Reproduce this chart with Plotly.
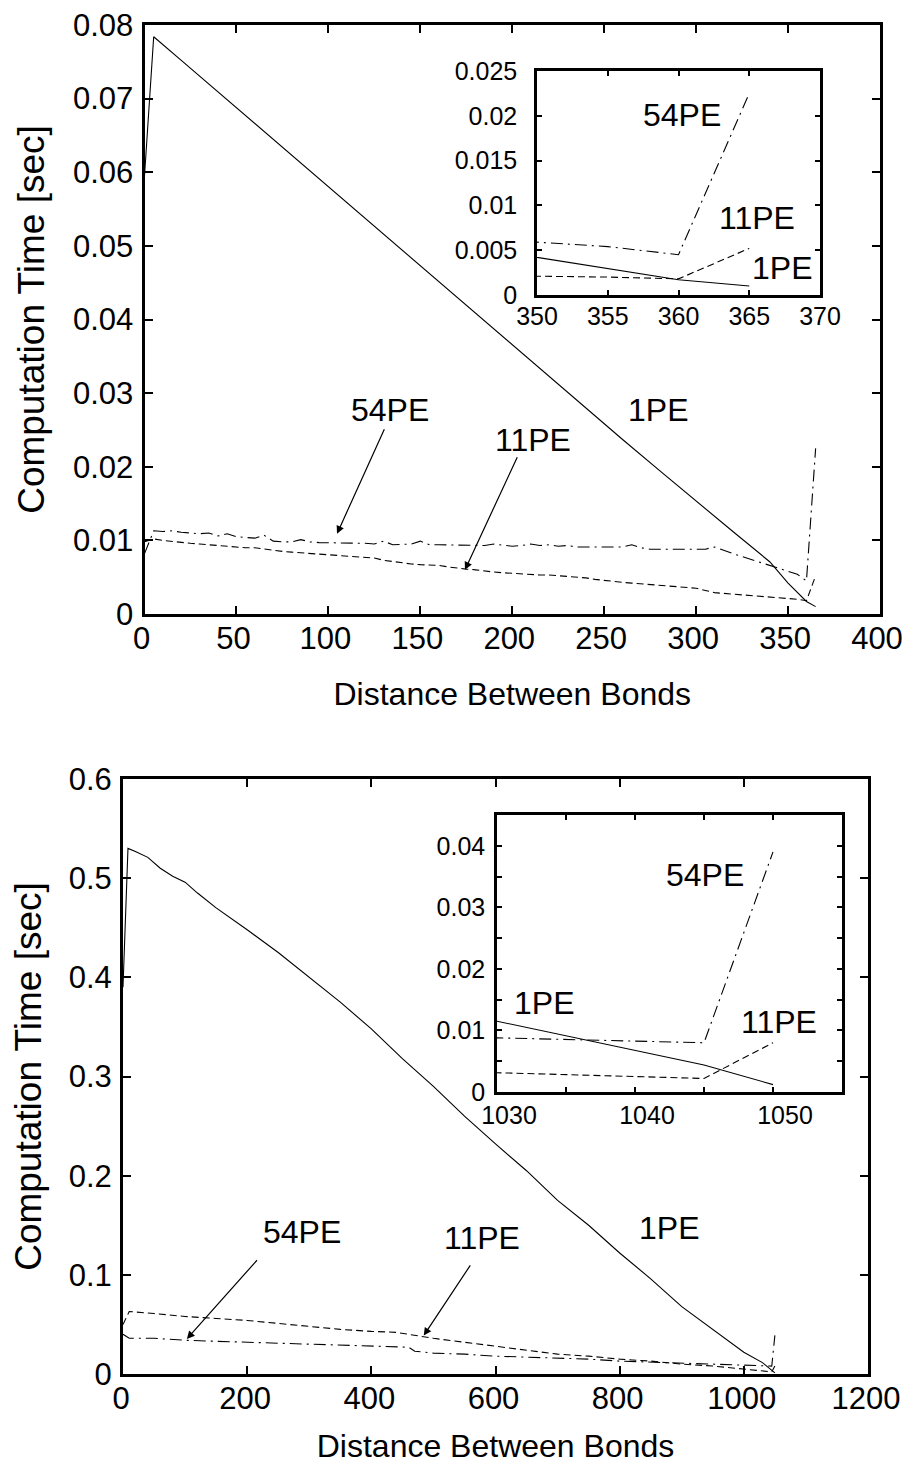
import plotly.graph_objects as go

# ---------------- data: top chart (bond distance up to 365) ----------------
top_x_1pe = [0, 5, 20, 40, 60, 80, 100, 120, 140, 160, 180, 200, 220, 240, 260,
             280, 300, 320, 340, 350, 360, 365]
top_y_1pe = [0.0595, 0.0784, 0.0752, 0.0709, 0.0666, 0.0623, 0.0580, 0.0537, 0.0494,
             0.0451, 0.0408, 0.0365, 0.0322, 0.0280, 0.0237, 0.0195, 0.0153, 0.0112,
             0.0071, 0.0042, 0.0017, 0.0010]

top_x_pe = [0, 5, 10, 15, 20, 25, 30, 35, 40, 45, 50, 55, 60, 65, 70, 75, 80, 85, 90,
            95, 100, 105, 110, 115, 120, 125, 130, 135, 140, 145, 150, 155, 160, 165,
            170, 175, 180, 185, 190, 195, 200, 205, 210, 215, 220, 225, 230, 235, 240,
            245, 250, 255, 260, 265, 270, 275, 280, 285, 290, 295, 300, 305, 310, 315,
            320, 325, 330, 335, 340, 345, 350, 355, 360, 365]
top_y_11pe = [0.0098, 0.0102, 0.0100, 0.0099, 0.0097, 0.0096, 0.0095, 0.0094, 0.0092,
              0.0091, 0.0091, 0.0090, 0.0090, 0.0088, 0.0086, 0.0085, 0.0084, 0.0083,
              0.0082, 0.0081, 0.0080, 0.0079, 0.0078, 0.0078, 0.0077, 0.0076, 0.0073,
              0.0071, 0.0069, 0.0068, 0.0067, 0.0067, 0.0066, 0.0064, 0.0062, 0.0061,
              0.0060, 0.0058, 0.0057, 0.0056, 0.0055, 0.0055, 0.0054, 0.0053, 0.0053,
              0.0052, 0.0051, 0.0051, 0.0049, 0.0047, 0.0046, 0.0045, 0.0043, 0.0042,
              0.0041, 0.0040, 0.0039, 0.0038, 0.0037, 0.0036, 0.0035, 0.0032, 0.0029,
              0.0028, 0.0027, 0.0026, 0.0025, 0.0024, 0.0023, 0.0022, 0.0021, 0.0020,
              0.0018, 0.0052]
top_y_54pe = [0.0082, 0.0113, 0.0112, 0.0113, 0.0111, 0.0110, 0.0109, 0.0110, 0.0106,
              0.0109, 0.0105, 0.0104, 0.0103, 0.0107, 0.0099, 0.0098, 0.0098, 0.0101,
              0.0098, 0.0097, 0.0097, 0.0097, 0.0097, 0.0097, 0.0096, 0.0095, 0.0099,
              0.0094, 0.0094, 0.0095, 0.0099, 0.0094, 0.0094, 0.0094, 0.0093, 0.0093,
              0.0093, 0.0093, 0.0095, 0.0093, 0.0092, 0.0093, 0.0095, 0.0093, 0.0094,
              0.0092, 0.0093, 0.0091, 0.0091, 0.0090, 0.0090, 0.0090, 0.0091, 0.0094,
              0.0090, 0.0088, 0.0088, 0.0087, 0.0088, 0.0087, 0.0087, 0.0088, 0.0091,
              0.0086, 0.0082, 0.0078, 0.0074, 0.0070, 0.0066, 0.0062, 0.0059, 0.0054,
              0.0045, 0.0225]

# ---------------- data: bottom chart (bond distance up to 1050) ----------------
bot_x_1pe = [0, 8, 20, 40, 60, 80, 100, 120, 150, 200, 250, 300, 350, 400, 450, 500,
             550, 600, 650, 700, 750, 800, 850, 900, 950, 1000, 1030, 1045, 1050]
bot_y_1pe = [0.390, 0.530, 0.527, 0.521, 0.510, 0.502, 0.496, 0.485, 0.470, 0.448,
             0.425, 0.400, 0.375, 0.348, 0.318, 0.290, 0.260, 0.232, 0.205, 0.175,
             0.150, 0.122, 0.096, 0.068, 0.045, 0.022, 0.0115, 0.0044, 0.0012]

bot_x_11pe = [0, 10, 50, 100, 150, 200, 250, 300, 350, 400, 440, 460, 500, 550, 600,
              650, 700, 750, 800, 850, 900, 950, 1000, 1030, 1045, 1050]
bot_y_11pe = [0.050, 0.063, 0.061, 0.058, 0.056, 0.054, 0.051, 0.048, 0.045, 0.043,
              0.042, 0.040, 0.036, 0.032, 0.028, 0.024, 0.020, 0.018, 0.015, 0.013,
              0.010, 0.008, 0.005, 0.0032, 0.0022, 0.0080]

bot_x_54pe = [0, 10, 50, 100, 150, 200, 250, 300, 350, 400, 450, 460, 470, 500, 550,
              600, 650, 700, 750, 800, 850, 900, 950, 1000, 1030, 1045, 1050]
bot_y_54pe = [0.040, 0.036, 0.036, 0.034, 0.033, 0.032, 0.031, 0.030, 0.029, 0.028,
              0.027, 0.027, 0.023, 0.021, 0.020, 0.018, 0.017, 0.016, 0.015, 0.013,
              0.012, 0.011, 0.010, 0.009, 0.0088, 0.0080, 0.039]

# ---------------- tick labels ----------------
top_xticks = [0, 50, 100, 150, 200, 250, 300, 350, 400]
top_yticks = [0, 0.01, 0.02, 0.03, 0.04, 0.05, 0.06, 0.07, 0.08]
top_ytext = ["0", "0.01", "0.02", "0.03", "0.04", "0.05", "0.06", "0.07", "0.08"]
tin_xticks = [350, 355, 360, 365, 370]
tin_yticks = [0, 0.005, 0.01, 0.015, 0.02, 0.025]
tin_ytext = ["0", "0.005", "0.01", "0.015", "0.02", "0.025"]
bot_xticks = [0, 200, 400, 600, 800, 1000, 1200]
bot_yticks = [0, 0.1, 0.2, 0.3, 0.4, 0.5, 0.6]
bot_ytext = ["0", "0.1", "0.2", "0.3", "0.4", "0.5", "0.6"]
bin_xticks = [1030, 1035, 1040, 1045, 1050, 1055]
bin_xtext = ["1030", "", "1040", "", "1050", ""]
bin_yticks = [0, 0.005, 0.01, 0.015, 0.02, 0.025, 0.03, 0.035, 0.04, 0.045]
bin_ytext = ["0", "", "0.01", "", "0.02", "", "0.03", "", "0.04", ""]

FONT = "Liberation Sans, Arial, Helvetica, sans-serif"
DASH_11 = "7px,4px"
DASH_54 = "12px,5px,2px,5px"
LW = 1.1

fig = go.Figure()

series_top = [
    (top_x_1pe, top_y_1pe, "solid", "1PE"),
    (top_x_pe, top_y_11pe, DASH_11, "11PE"),
    (top_x_pe, top_y_54pe, DASH_54, "54PE"),
]
series_bot = [
    (bot_x_1pe, bot_y_1pe, "solid", "1PE"),
    (bot_x_11pe, bot_y_11pe, DASH_11, "11PE"),
    (bot_x_54pe, bot_y_54pe, DASH_54, "54PE"),
]
for xs, ys, dash, name in series_top:
    for xa, ya in (("x", "y"), ("x2", "y2")):
        fig.add_trace(go.Scatter(x=xs, y=ys, mode="lines", name=name, xaxis=xa, yaxis=ya,
                                 line=dict(color="black", width=LW, dash=dash),
                                 showlegend=False))
for xs, ys, dash, name in series_bot:
    for xa, ya in (("x3", "y3"), ("x4", "y4")):
        fig.add_trace(go.Scatter(x=xs, y=ys, mode="lines", name=name, xaxis=xa, yaxis=ya,
                                 line=dict(color="black", width=LW, dash=dash),
                                 showlegend=False))

# page body adds an 8 px margin; the figure is sized so the page does not scroll
OFF = 8
W, H = 910 - OFF, 1472 - 2 * OFF
def dom_x(a, b):
    return [(a - OFF) / W, (b - OFF) / W]
def dom_y(top, bottom):
    return [1 - (bottom - OFF) / H, 1 - (top - OFF) / H]

main_axis = dict(showline=True, linewidth=3, linecolor="black", mirror="ticks",
                 ticks="inside", ticklen=8, tickwidth=2, tickcolor="black",
                 showgrid=False, zeroline=False, automargin=False,
                 ticklabeloverflow="allow",
                 tickfont=dict(family=FONT, size=31, color="black"))
inset_axis = dict(showline=True, linewidth=2.5, linecolor="black", mirror="ticks",
                  ticks="inside", ticklen=5, tickwidth=2, tickcolor="black",
                  showgrid=False, zeroline=False, automargin=False,
                  ticklabeloverflow="allow",
                  tickfont=dict(family=FONT, size=25, color="black"))
xtitle_font = dict(family=FONT, size=32, color="black")
ytitle_font = dict(family=FONT, size=37, color="black")

fig.update_layout(
    width=W, height=H, margin=dict(l=0, r=0, t=0, b=0, autoexpand=False),
    paper_bgcolor="white", plot_bgcolor="white", showlegend=False,
    xaxis=dict(main_axis, domain=dom_x(144.5, 880), range=[0, 400],
               tickvals=top_xticks, anchor="y", ticklabelstandoff=-5, ticklabelshift=-3,
               title=dict(text="Distance Between Bonds", font=xtitle_font, standoff=28)),
    yaxis=dict(main_axis, domain=dom_y(25, 614), range=[0, 0.08],
               tickvals=top_yticks, ticktext=top_ytext, anchor="x", ticklabelstandoff=2,
               title=dict(text="Computation Time [sec]", font=ytitle_font, standoff=18)),
    xaxis2=dict(inset_axis, domain=dom_x(537, 820), range=[350, 370],
                tickvals=tin_xticks, anchor="y2", ticklabelstandoff=-3),
    yaxis2=dict(inset_axis, domain=dom_y(71, 295), range=[0, 0.025],
                tickvals=tin_yticks, ticktext=tin_ytext, anchor="x2", ticklabelstandoff=12),
    xaxis3=dict(main_axis, domain=dom_x(123, 868), range=[0, 1200],
                tickvals=bot_xticks, anchor="y3", ticklabelstandoff=-5, ticklabelshift=-2,
                title=dict(text="Distance Between Bonds", font=xtitle_font, standoff=30)),
    yaxis3=dict(main_axis, domain=dom_y(779, 1374), range=[0, 0.6],
                tickvals=bot_yticks, ticktext=bot_ytext, anchor="x3", ticklabelstandoff=2,
                title=dict(text="Computation Time [sec]", font=ytitle_font, standoff=18)),
    xaxis4=dict(inset_axis, domain=dom_x(497, 842), range=[1030, 1055],
                tickvals=bin_xticks, ticktext=bin_xtext, anchor="y4",
                ticklabelstandoff=-1, ticklabelshift=12),
    yaxis4=dict(inset_axis, domain=dom_y(815, 1092), range=[0, 0.045],
                tickvals=bin_yticks, ticktext=bin_ytext, anchor="x4", ticklabelstandoff=4),
)

lab_font = dict(family=FONT, size=32, color="black")
labels = [
    # (text, x, y, xref, yref)
    ("54PE", 133.5, 0.0277, "x", "y"),
    ("11PE", 211.3, 0.0236, "x", "y"),
    ("1PE", 279.2, 0.0277, "x", "y"),
    ("54PE", 360.25, 0.0201, "x2", "y2"),
    ("11PE", 365.53, 0.0086, "x2", "y2"),
    ("1PE", 367.3, 0.0030, "x2", "y2"),
    ("54PE", 288.4, 0.1437, "x3", "y3"),
    ("11PE", 577.8, 0.1372, "x3", "y3"),
    ("1PE", 879.5, 0.1473, "x3", "y3"),
    ("54PE", 1045.1, 0.0352, "x4", "y4"),
    ("1PE", 1033.4, 0.0144, "x4", "y4"),
    ("11PE", 1050.4, 0.0113, "x4", "y4"),
]
for t, x, y, xr, yr in labels:
    fig.add_annotation(text=t, x=x, y=y, xref=xr, yref=yr, showarrow=False, font=lab_font)

arrows = [
    # head (x, y), tail (ax, ay)
    (104.7, 0.0109, 130.8, 0.0253, "x", "y"),
    (174.3, 0.0060, 203.1, 0.0215, "x", "y"),
    (102.9, 0.0354, 217.9, 0.1162, "x3", "y3"),
    (484.4, 0.0387, 561.0, 0.1111, "x3", "y3"),
]
for x, y, ax, ay, xr, yr in arrows:
    fig.add_annotation(text="", x=x, y=y, ax=ax, ay=ay, xref=xr, yref=yr,
                       axref=xr, ayref=yr, showarrow=True, arrowhead=2,
                       arrowsize=1.3, arrowwidth=1.2, arrowcolor="black")

fig.write_html("out.html")
